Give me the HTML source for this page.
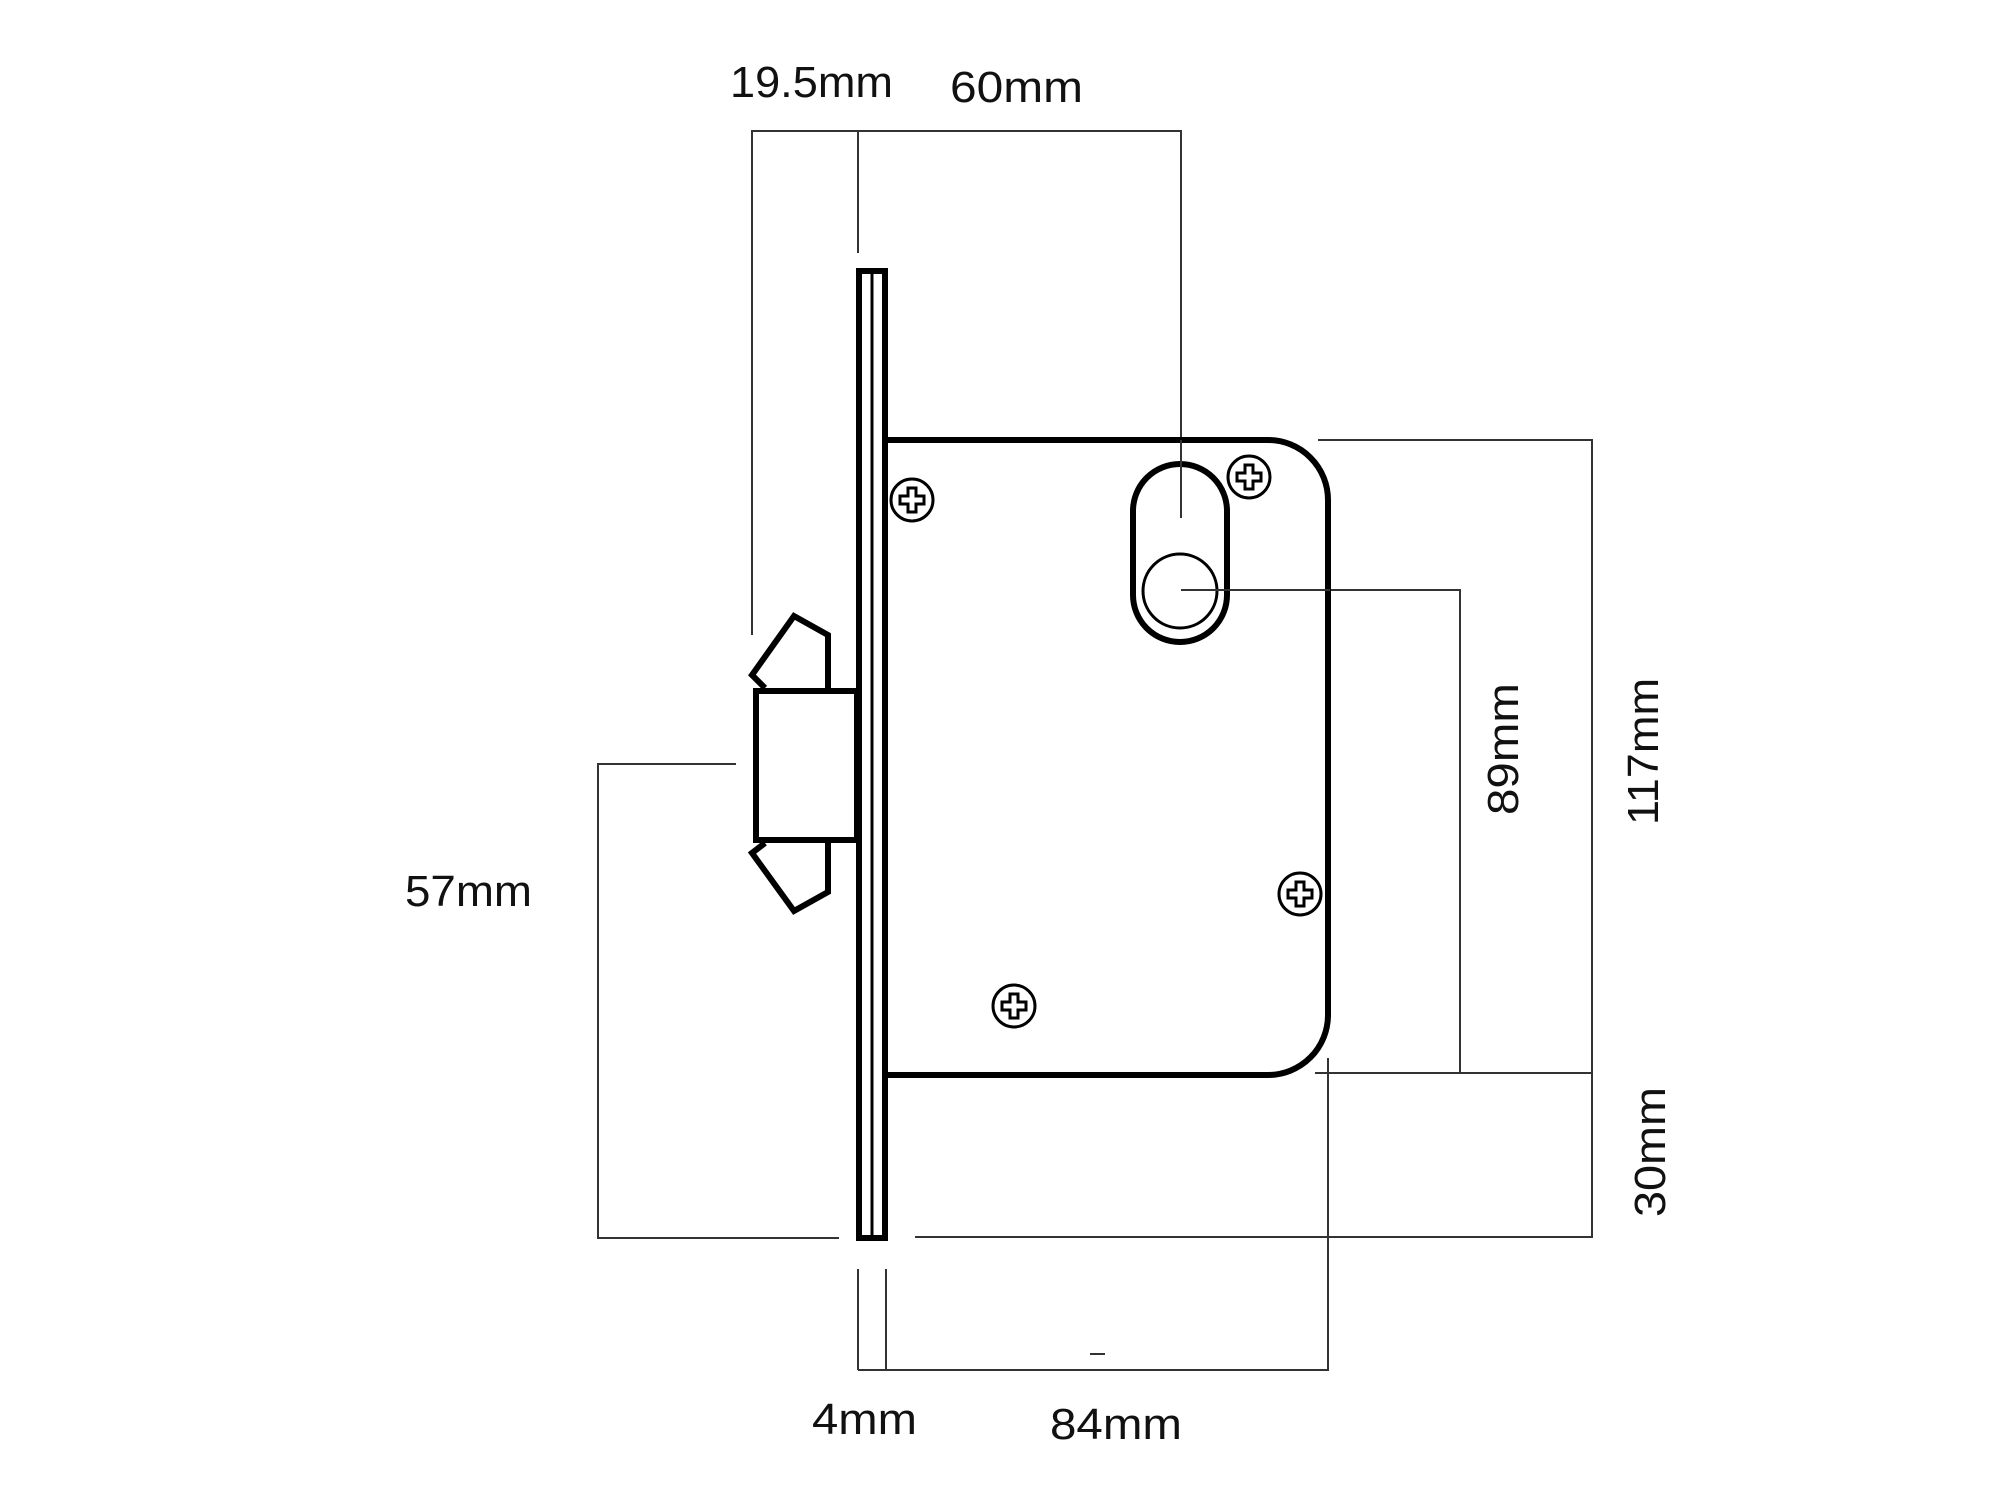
<!DOCTYPE html>
<html><head><meta charset="utf-8"><style>
html,body{margin:0;padding:0;background:#fff;}
svg{display:block;}
text{font-family:"Liberation Sans",sans-serif;font-size:44px;fill:#111;}
</style></head><body>
<svg width="2000" height="1500" viewBox="0 0 2000 1500" xmlns="http://www.w3.org/2000/svg">
<defs>
<g id="screw">
<circle r="21" fill="#fff" stroke="#000" stroke-width="3"/>
<path d="M-4,-12 H4 V-4 H12 V4 H4 V12 H-4 V4 H-12 V-4 H-4 Z" fill="none" stroke="#000" stroke-width="3"/>
</g>
</defs>
<g fill="none" stroke="#333" stroke-width="2">
<!-- top dims -->
<polyline points="752,635 752,131 1181,131 1181,518"/>
<line x1="858" y1="131" x2="858" y2="253"/>
<!-- 89mm -->
<polyline points="1181,590 1460,590 1460,1073"/>
<!-- 117 / 30 -->
<polyline points="1318,440 1592,440 1592,1237 915,1237"/>
<line x1="1315" y1="1073" x2="1592" y2="1073"/>
<!-- 57mm -->
<polyline points="736,764 598,764 598,1238 839,1238"/>
<!-- bottom 4mm/84mm -->
<line x1="858" y1="1269" x2="858" y2="1370"/>
<line x1="886" y1="1269" x2="886" y2="1370"/>
<polyline points="858,1370 1328,1370 1328,1058"/>
<line x1="1090" y1="1354" x2="1105" y2="1354"/>
</g>
<g fill="none" stroke="#000" stroke-width="6" stroke-linejoin="miter">
<!-- body -->
<path d="M886,440 H1268 A60,60 0 0 1 1328,500 V1015 A60,60 0 0 1 1268,1075 H886"/>
<!-- faceplate -->
<rect x="859" y="271" width="26" height="967"/>
<!-- bolt -->
<rect x="756" y="691" width="101" height="149"/>
<polyline points="765,688 752,675 794,616 828,635 828,688"/>
<polyline points="765,843 752,853 794,911 828,892 828,843"/>
<!-- oval -->
<rect x="1133" y="464" width="94" height="178" rx="47" ry="47"/>
</g>
<line x1="872" y1="271" x2="872" y2="1238" stroke="#000" stroke-width="3"/>
<circle cx="1180" cy="591" r="37" fill="none" stroke="#000" stroke-width="3"/>
<g stroke="#333" stroke-width="2">
<line x1="1181" y1="440" x2="1181" y2="518"/>
<line x1="1181" y1="590" x2="1330" y2="590"/>
</g>
<use href="#screw" x="912" y="500"/>
<use href="#screw" x="1249" y="477"/>
<use href="#screw" x="1300" y="894"/>
<use href="#screw" x="1014" y="1006"/>
<text x="730" y="97" textLength="163" lengthAdjust="spacingAndGlyphs">19.5mm</text>
<text x="950" y="102" textLength="133" lengthAdjust="spacingAndGlyphs">60mm</text>
<text x="405" y="906" textLength="127" lengthAdjust="spacingAndGlyphs">57mm</text>
<text x="812" y="1434" textLength="105" lengthAdjust="spacingAndGlyphs">4mm</text>
<text x="1050" y="1439" textLength="132" lengthAdjust="spacingAndGlyphs">84mm</text>
<text transform="translate(1518,815) rotate(-90)" textLength="132" lengthAdjust="spacingAndGlyphs">89mm</text>
<text transform="translate(1658,825) rotate(-90)" textLength="147" lengthAdjust="spacingAndGlyphs">117mm</text>
<text transform="translate(1665,1217) rotate(-90)" textLength="130" lengthAdjust="spacingAndGlyphs">30mm</text>
</svg>
</body></html>
